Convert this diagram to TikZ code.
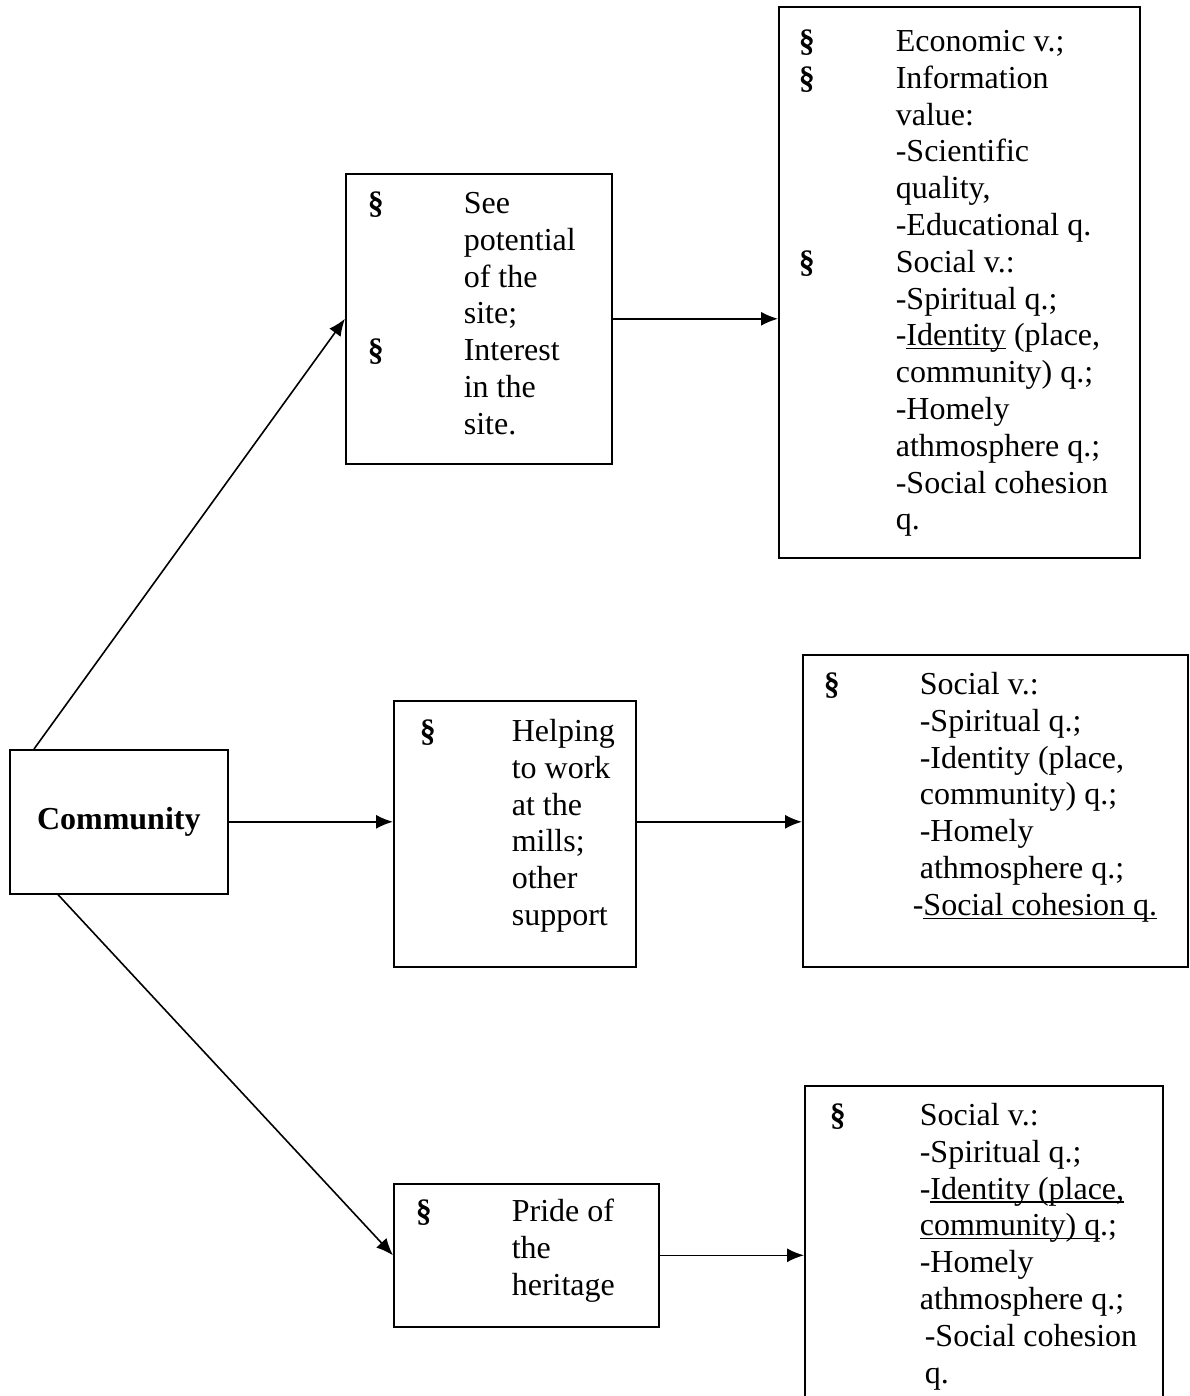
\documentclass[tikz,border=0pt]{standalone}
\usepackage{fontspec}
\setmainfont{Liberation Serif}
\usetikzlibrary{arrows.meta,positioning}
\newcommand{\secmark}[1][96pt]{\llap{\makebox[#1][l]{\textbf{\S}}}}
\newsavebox{\ulbox}
\newcommand{\undl}[1]{\sbox{\ulbox}{#1}\rlap{\rule[-3.5pt]{\wd\ulbox}{1.3pt}}\usebox{\ulbox}}

\begin{document}
\begin{tikzpicture}[x=1pt,y=-1pt,>={Latex[length=17pt,width=14pt]},line width=1.6pt,
  font=\fontsize{32}{36.8}\selectfont,
  box/.style={draw,rectangle,anchor=north west,inner sep=0pt},
  txt/.style={anchor=north west,align=left,inner sep=0pt}]
\useasboundingbox (0,0) rectangle (1189,1396);
\node[box,minimum width=218pt,minimum height=144pt,font=\fontsize{32}{36.8}\selectfont\bfseries] (comm) at (9,749) {Community\hspace{10pt}};
\node[box,minimum width=266pt,minimum height=290pt] (potent) at (345,173) {};
\node[box,minimum width=361pt,minimum height=551pt] (values) at (778,6) {};
\node[box,minimum width=242pt,minimum height=266pt] (helping) at (393,700) {};
\node[box,minimum width=385pt,minimum height=312pt] (socmid) at (802,654) {};
\node[box,minimum width=265pt,minimum height=143pt] (pride) at (393,1183) {};
\node[box,minimum width=358pt,minimum height=330pt] (socbot) at (804,1085) {};
\node[txt] (potenttxt) at (463,187) {\strut\secmark See\\ potential\\ of the\\ site;\\
  \secmark Interest\\ in the\\ site.};
\node[txt] (valuestxt) at (895,25) {\strut\secmark[97pt]Economic v.;\\
  \secmark[97pt]Information\\ value:\\ -Scientific\\ quality,\\ -Educational q.\\
  \secmark[97pt]Social v.:\\ -Spiritual q.;\\ -\undl{Identity} (place,\\ community) q.;\\
  -Homely\\ athmosphere q.;\\ -Social cohesion\\ q.};
\node[txt] (helpingtxt) at (511,715) {\strut\secmark[92pt]Helping\\ to work\\ at the\\ mills;\\ other\\ support};
\node[txt] (socmidtxt) at (919,668) {\strut\secmark Social v.:\\ -Spiritual q.;\\ -Identity (place,\\
  community) q.;\\ -Homely\\ athmosphere q.;\\ \hspace*{-7pt}-\undl{Social cohesion q.}};
\node[txt] (pridetxt) at (511,1195) {\strut\secmark Pride of\\ the\\ heritage};
\node[txt] (socbottxt) at (919,1099) {\strut\secmark[90pt]Social v.:\\ -Spiritual q.;\\
  -\undl{Identity (place,}\\ \undl{community) q}.;\\ -Homely\\ athmosphere q.;\\
  \hspace*{5pt}-Social cohesion\\ \hspace*{5pt}q.};
\draw[->] ([xshift=25pt]comm.north west) -- (potent.west);
\draw[->] (comm.east) -- (comm.east -| helping.west);
\draw[->] ([xshift=49pt]comm.south west) -- (pride.west);
\draw[->] (potent.east) -- (potent.east -| values.west);
\draw[->] (comm.east -| helping.east) -- (comm.east -| socmid.west);
\draw[->] (pride.east) -- (pride.east -| socbot.west);
\end{tikzpicture}
\end{document}
